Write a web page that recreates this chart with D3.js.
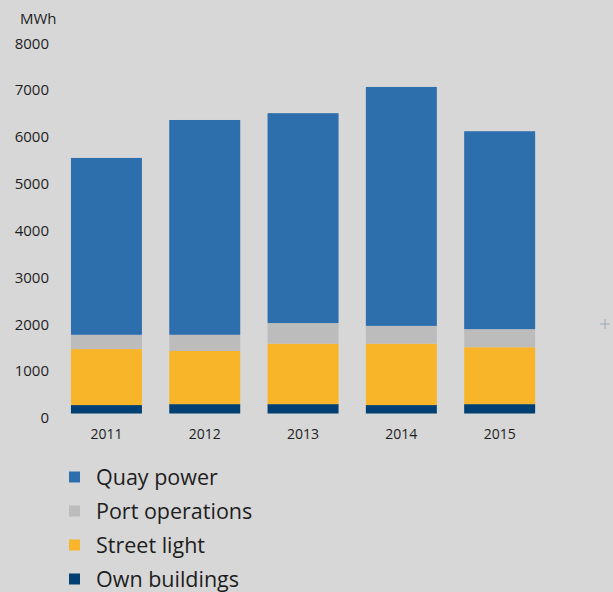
<!DOCTYPE html>
<html>
<head>
<meta charset="utf-8">
<script src="https://cdn.jsdelivr.net/npm/d3@7"></script>
<style>
  html, body { margin: 0; padding: 0; background: #d7d7d7; }
  text { font-family: "Open Sans", "Lato", sans-serif; fill: #1e1e1e; }
</style>
</head>
<body>
<div id="chart"></div>
<script>
// years on the x axis
const years = ["2011", "2012", "2013", "2014", "2015"];
// series values in MWh
const ownBuildings = [180, 200, 200, 180, 200];
const streetLight = [1195, 1135, 1290, 1310, 1215];
const portOperations = [305, 345, 440, 380, 385];
const quayPower = [3775, 4585, 4480, 5100, 4225];
const yTicks = [0, 1000, 2000, 3000, 4000, 5000, 6000, 7000, 8000];
const seriesNames = ["Own buildings", "Street light", "Port operations", "Quay power"];
const seriesColors = ["#003f72", "#f9b52a", "#bcbcbc", "#2d6ead"];

const width = 613, height = 592;

const table = years.map((y, i) => ({
  year: y,
  "Own buildings": ownBuildings[i],
  "Street light": streetLight[i],
  "Port operations": portOperations[i],
  "Quay power": quayPower[i]
}));

const stacked = d3.stack().keys(seriesNames)(table);

const x = d3.scaleBand()
  .domain(years)
  .range([51.3, 554.8])
  .paddingInner(0.278)
  .paddingOuter(0.2);

const y = d3.scaleLinear()
  .domain([0, 8000])
  .range([413.5, 38.7]);

const color = d3.scaleOrdinal().domain(seriesNames).range(seriesColors);

const svg = d3.select("#chart")
  .append("svg")
    .attr("width", width)
    .attr("height", height);

// unit label
svg.append("text")
  .attr("x", 20)
  .attr("y", 24)
  .style("font-size", "15px")
  .text("MWh");

// y axis labels, no lines
const yAxis = svg.append("g")
  .attr("transform", "translate(49,0)")
  .call(d3.axisLeft(y).tickValues(yTicks).tickSize(0).tickPadding(0).tickFormat(d3.format("d")));
yAxis.select(".domain").remove();
yAxis.attr("font-family", null);
yAxis.selectAll("text")
  .attr("dy", "0.62em")
  .style("font-size", "15px")
  .style("fill", "#1e1e1e");

// stacked bars
svg.append("g")
  .selectAll("g")
  .data(stacked)
  .join("g")
    .attr("fill", d => color(d.key))
  .selectAll("rect")
  .data(d => d)
  .join("rect")
    .attr("x", d => x(d.data.year))
    .attr("width", x.bandwidth())
    .attr("y", d => y(d[1]))
    .attr("height", d => y(d[0]) - y(d[1]));

// x axis labels
const xAxis = svg.append("g")
  .attr("transform", "translate(0,431)")
  .call(d3.axisBottom(x).tickSize(0).tickPadding(0));
xAxis.select(".domain").remove();
xAxis.attr("font-family", null);
xAxis.selectAll("text")
  .attr("dy", "0.6em")
  .style("font-size", "14px")
  .style("fill", "#1e1e1e");

// legend, top entry is Quay power
const legendOrder = seriesNames.slice().reverse();
const legend = svg.append("g")
  .selectAll("g")
  .data(legendOrder)
  .join("g")
    .attr("transform", (d, i) => `translate(69,${477 + i * 34})`);

legend.append("rect")
  .attr("x", 0)
  .attr("y", -5.5)
  .attr("width", 11)
  .attr("height", 11)
  .attr("fill", d => color(d));

legend.append("text")
  .attr("x", 27)
  .attr("dy", "0.36em")
  .style("font-size", "21.5px")
  .text(d => d);

// small cross marker on the right edge
const cross = svg.append("g")
  .attr("transform", "translate(605,324)")
  .attr("stroke", "#9aa8b8")
  .attr("stroke-width", 1);
cross.append("line").attr("x1", -5).attr("x2", 5).attr("y1", 0).attr("y2", 0);
cross.append("line").attr("x1", 0).attr("x2", 0).attr("y1", -5).attr("y2", 5);
</script>
</body>
</html>
